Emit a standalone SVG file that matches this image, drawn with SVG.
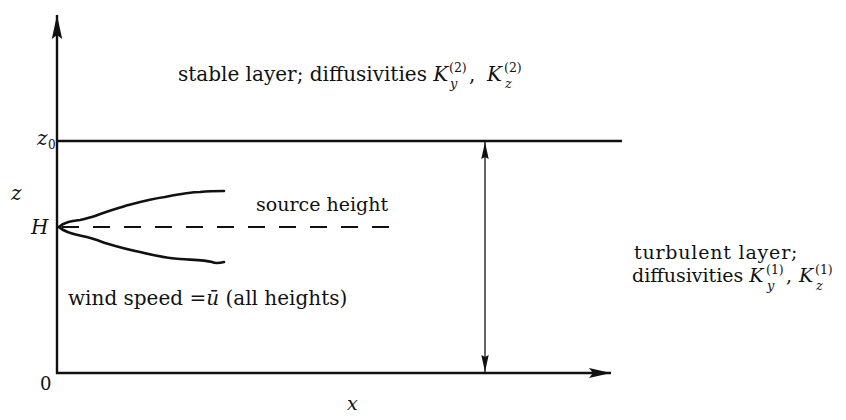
<svg xmlns="http://www.w3.org/2000/svg" width="846" height="420" viewBox="0 0 846 420">
<style>
.t{font-family:"DejaVu Serif","Liberation Serif",serif;fill:#111;}
.i{font-style:italic;}
.ax{stroke:#111;stroke-width:2.4;fill:none;}
.thin{stroke:#111;stroke-width:1.3;fill:none;}
.plume{stroke:#111;stroke-width:2.6;fill:none;stroke-linejoin:round;stroke-linecap:round;}
.dash{stroke:#111;stroke-width:2.2;fill:none;stroke-dasharray:17 14;}
</style>
<defs>
<marker id="bigArrow" markerUnits="userSpaceOnUse" markerWidth="26" markerHeight="14" refX="24" refY="6" orient="auto">
<path d="M0,0.8 L24,6 L0,11.2 L4,6 Z" fill="#111"/>
</marker>
<marker id="xArrow" markerUnits="userSpaceOnUse" markerWidth="26" markerHeight="14" refX="22" refY="6" orient="auto">
<path d="M0,1 L22,6 L0,11 L4,6 Z" fill="#111"/>
</marker>
<marker id="smallArrow" markerUnits="userSpaceOnUse" markerWidth="20" markerHeight="10" refX="17" refY="4" orient="auto-start-reverse">
<path d="M0,0.3 L17,4 L0,7.7 L2,4 Z" fill="#111"/>
</marker>
</defs>
<g id="connectors">
<line id="z-axis" class="ax" x1="57" y1="374" x2="57" y2="15" marker-end="url(#bigArrow)"/>
<line id="x-axis" class="ax" x1="56" y1="373" x2="611" y2="373" marker-end="url(#xArrow)"/>
<line id="z0-line" class="ax" x1="57" y1="141" x2="622" y2="141"/>
<line id="layer-depth" class="thin" x1="485" y1="142" x2="485" y2="372" marker-start="url(#smallArrow)" marker-end="url(#smallArrow)"/>
<line id="source-height-line" class="dash" x1="62" y1="227" x2="400" y2="227"/>
</g>
<g id="plume">
<path class="plume" d="M59,227 C64,222 72,221 80,220 C86,219 88,218 95,216 C105,212 112,210 125,206 C140,202 150,199 165,197 C180,194 190,192 200,192 C210,191 218,191 224,191"/>
<path class="plume" d="M59,227 C64,232 72,234 82,236 C92,238 97,240 105,243 C115,246 125,249 140,252 C152,255 165,258 180,259 C195,260 205,260 212,262 C216,264 220,263 224,262"/>
</g>
<g id="stable-layer-label">
<text class="t" font-size="20" x="178" y="81">stable layer; diffusivities <tspan class="i">K</tspan></text>
<text class="t" font-size="12.5" x="449" y="72">(2)</text>
<text class="t i" font-size="13" x="450" y="88">y</text>
<text class="t" font-size="20" x="469" y="81">,</text>
<text class="t i" font-size="20" x="487" y="81">K</text>
<text class="t" font-size="12.5" x="504" y="72">(2)</text>
<text class="t i" font-size="13" x="505" y="88">z</text>
</g>
<g id="turbulent-layer-label">
<text class="t" font-size="19" x="634" y="259" letter-spacing="0.8">turbulent layer;</text>
<text class="t" font-size="19" x="632" y="282">diffusivities <tspan class="i">K</tspan></text>
<text class="t" font-size="12.5" x="766" y="274">(1)</text>
<text class="t i" font-size="13" x="767" y="290">y</text>
<text class="t" font-size="19" x="786" y="282">,</text>
<text class="t i" font-size="19" x="799" y="282">K</text>
<text class="t" font-size="12.5" x="815" y="274">(1)</text>
<text class="t i" font-size="13" x="816" y="290">z</text>
</g>
<g id="source-height-label">
<text class="t" font-size="19" x="256" y="211">source height</text>
</g>
<g id="wind-label">
<text class="t" font-size="20" x="68" y="305">wind speed =<tspan class="i">ū</tspan> (all heights)</text>
</g>
<g id="axis-labels">
<text class="t i" font-size="20" x="37" y="145">z</text>
<text class="t" font-size="12" x="48" y="149">0</text>
<text class="t i" font-size="20" x="11" y="200">z</text>
<text class="t i" font-size="20" x="31" y="234">H</text>
<text class="t" font-size="18" x="40" y="390">0</text>
<text class="t i" font-size="19" x="347" y="410">x</text>
</g>
</svg>
